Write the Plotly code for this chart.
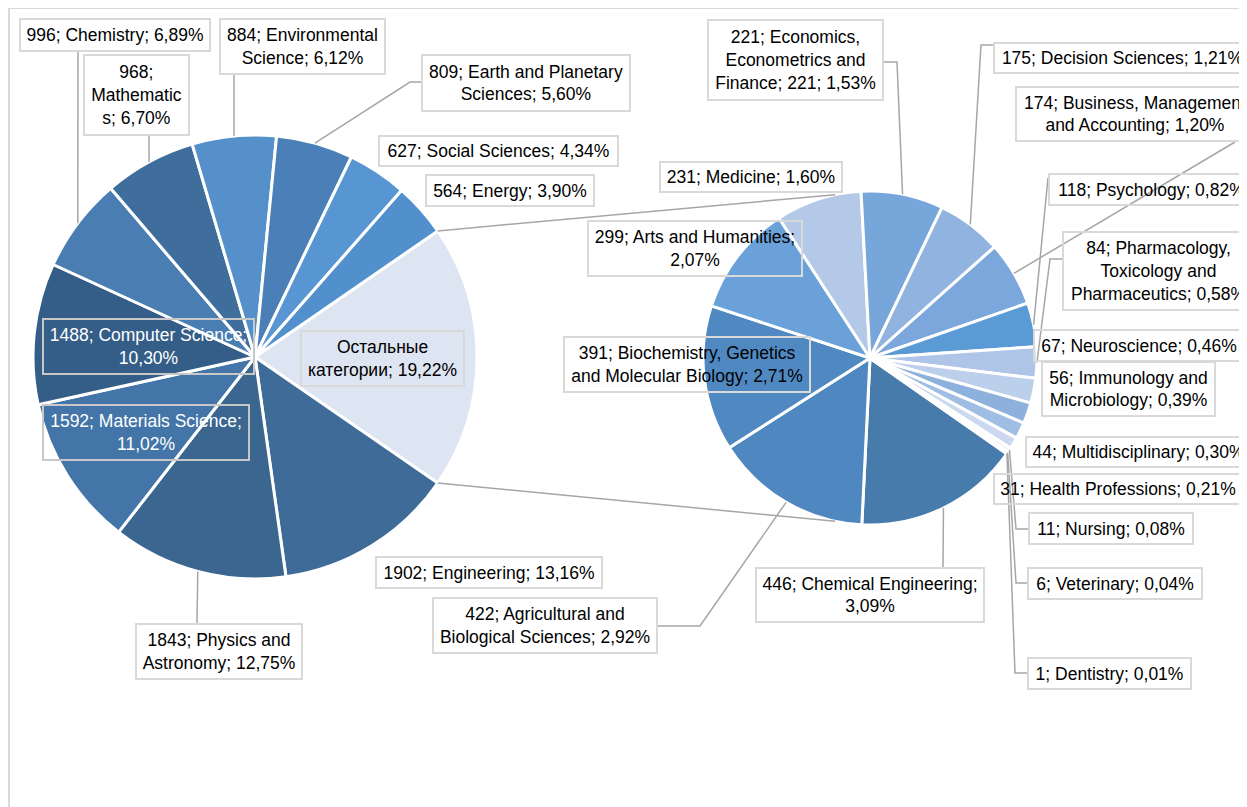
import math
import plotly.graph_objects as go

W, H = 1247, 807
PAGE = 8   # the page body margin shifts the figure by this many pixels

# main pie (clockwise, starting with the grouped slice)
main_names = ["Остальные категории", "Engineering", "Physics and Astronomy", "Materials Science",
              "Computer Science", "Chemistry", "Mathematics", "Environmental Science",
              "Earth and Planetary Sciences", "Social Sciences", "Energy"]
main_counts = [2777, 1902, 1843, 1592, 1488, 996, 968, 884, 809, 627, 564]
main_labels = ["Остальные<br>категории; 19,22%",
               "1902; Engineering; 13,16%",
               "1843; Physics and<br>Astronomy; 12,75%",
               "1592; Materials Science;<br>11,02%",
               "1488; Computer Science;<br>10,30%",
               "996; Chemistry; 6,89%",
               "968;<br>Mathematic<br>s; 6,70%",
               "884; Environmental<br>Science; 6,12%",
               "809; Earth and Planetary<br>Sciences; 5,60%",
               "627; Social Sciences; 4,34%",
               "564; Energy; 3,90%"]
main_colors = ["#dde4f2", "#3e6b97", "#3a6690", "#4375a8", "#345d88", "#4a7eb3",
               "#3f6d9c", "#5590ca", "#4a7fb7", "#5796d3", "#5190cc"]

# secondary pie: breakdown of "Остальные категории"
sub_names = ["Chemical Engineering", "Agricultural and Biological Sciences",
             "Biochemistry, Genetics and Molecular Biology", "Arts and Humanities", "Medicine",
             "Economics, Econometrics and Finance", "Decision Sciences",
             "Business, Management and Accounting", "Psychology",
             "Pharmacology, Toxicology and Pharmaceutics", "Neuroscience",
             "Immunology and Microbiology", "Multidisciplinary", "Health Professions",
             "Nursing", "Veterinary", "Dentistry"]
sub_counts = [446, 422, 391, 299, 231, 221, 175, 174, 118, 84, 67, 56, 44, 31, 11, 6, 1]
sub_labels = ["446; Chemical Engineering;<br>3,09%",
              "422; Agricultural and<br>Biological Sciences; 2,92%",
              "391; Biochemistry, Genetics<br>and Molecular Biology; 2,71%",
              "299; Arts and Humanities;<br>2,07%",
              "231; Medicine; 1,60%",
              "221; Economics,<br>Econometrics and<br>Finance; 221; 1,53%",
              "175; Decision Sciences; 1,21%",
              "174; Business, Management<br>and Accounting; 1,20%",
              "118; Psychology; 0,82%",
              "84; Pharmacology,<br>Toxicology and<br>Pharmaceutics; 0,58%",
              "67; Neuroscience; 0,46%",
              "56; Immunology and<br>Microbiology; 0,39%",
              "44; Multidisciplinary; 0,30%",
              "31; Health Professions; 0,21%",
              "11; Nursing; 0,08%",
              "6; Veterinary; 0,04%",
              "1; Dentistry; 0,01%"]
sub_colors = ["#467bac", "#4f88c1", "#5089c2", "#6aa1d8", "#b4c9e8", "#76a6da", "#90b3df",
              "#7ba7dc", "#5b9bd5", "#aec5e7", "#bccfeb", "#8db0dd", "#a0bde3", "#cbd8ef",
              "#dfe7f5", "#b8cce9", "#e6edf8"]

# geometry (pixels, as seen on the page)
L_CX, L_CY, L_R = 255, 357, 222
R_CX, R_CY, R_R = 870, 358, 167
main_rot = 90 - 180 * main_counts[0] / sum(main_counts)   # grouped slice centred at 3 o'clock
sub_rot = 125

# label boxes (x0, y0, x1, y1) and leader-line elbows, px
main_boxes = [(300, 330, 465, 387), (375, 556, 603, 589), (135, 623, 303, 680),
              (42, 404, 250, 461), (42, 318, 255, 375), (19, 18, 211, 52),
              (83, 54, 190, 136), (219, 18, 386, 75), (421, 54, 631, 112),
              (378, 135, 619, 167), (425, 174, 595, 207)]
main_leaders = [None, None, [(197, 623)], None, None, [(78, 52)], [(149, 136)], [(234, 75)],
                [(421, 82), (410, 82)], None, None]
main_fonts = ["black", "black", "black", "white", "white"] + ["black"] * 6

sub_boxes = [(755, 567, 985, 623), (432, 597, 658, 654), (563, 336, 811, 393),
             (587, 220, 803, 277), (659, 161, 843, 193), (707, 19, 884, 101),
             (993, 42, 1252, 74), (1015, 86, 1255, 142), (1048, 173, 1255, 206),
             (1062, 231, 1255, 311), (1033, 329, 1245, 362), (1041, 361, 1216, 417),
             (1025, 436, 1252, 468), (993, 473, 1243, 505), (1028, 512, 1194, 545),
             (1027, 567, 1203, 600), (1027, 657, 1192, 690)]
sub_leaders = [[(943, 567)], [(658, 626), (700, 626)], None, None, None,
               [(884, 62), (897, 62)], [(993, 45), (981, 45)], [(1235, 142)],
               [(1048, 178)], [(1062, 259), (1050, 259)], None, None, None, None,
               [(1028, 529), (1016, 529)], [(1027, 583), (1016, 583)],
               [(1027, 673), (1015, 673)]]


def px(x):
    return (x - PAGE) / W


def py(y):
    return 1 - (y - PAGE) / H


def mid_angles(counts, start):
    tot = sum(counts)
    out, a = [], start
    for c in counts:
        span = 360 * c / tot
        out.append(a + span / 2)
        a += span
    return out


def on_circle(cx, cy, r, deg):
    t = math.radians(deg)
    return (cx + r * math.sin(t), cy - r * math.cos(t))


def path(pts):
    return "M " + " L ".join(f"{px(x):.5f},{py(y):.5f}" for x, y in pts)


fig = go.Figure()
fig.add_trace(go.Pie(labels=main_names, values=main_counts, sort=False, direction="clockwise",
                     rotation=main_rot, textinfo="none", showlegend=False,
                     marker=dict(colors=main_colors, line=dict(color="white", width=3)),
                     domain=dict(x=[px(L_CX - L_R), px(L_CX + L_R)],
                                 y=[py(L_CY + L_R), py(L_CY - L_R)])))
fig.add_trace(go.Pie(labels=sub_names, values=sub_counts, sort=False, direction="clockwise",
                     rotation=sub_rot, textinfo="none", showlegend=False,
                     marker=dict(colors=sub_colors, line=dict(color="white", width=3)),
                     domain=dict(x=[px(R_CX - R_R), px(R_CX + R_R)],
                                 y=[py(R_CY + R_R), py(R_CY - R_R)])))

FONT = "Liberation Sans, Arial"
LINE = "#a6a6a6"


def add_labels(labels, boxes, leaders, angles, cx, cy, r, fonts=None):
    for i, txt in enumerate(labels):
        x0, y0, x1, y1 = boxes[i]
        col = fonts[i] if fonts else "black"
        fig.add_annotation(x=px((x0 + x1) / 2), y=py((y0 + y1) / 2), xref="paper", yref="paper",
                           text=txt, showarrow=False, xanchor="center", yanchor="middle",
                           width=x1 - x0 - 4, height=y1 - y0 - 4, borderpad=0, borderwidth=2,
                           bordercolor="#d9d9d9" if col == "black" else "#c8c8c8",
                           align="center", valign="middle",
                           font=dict(family=FONT, size=17.5, color=col))
        if leaders[i]:
            pts = leaders[i] + [on_circle(cx, cy, r, angles[i])]
            fig.add_shape(type="path", xref="paper", yref="paper", path=path(pts),
                          line=dict(color=LINE, width=1.5), layer="above")


add_labels(main_labels, main_boxes, main_leaders, mid_angles(main_counts, main_rot),
           L_CX, L_CY, L_R, main_fonts)
add_labels(sub_labels, sub_boxes, sub_leaders, mid_angles(sub_counts, sub_rot),
           R_CX, R_CY, R_R)

# connector lines between the grouped slice and the secondary pie
edge_a = main_rot
edge_b = main_rot + 360 * main_counts[0] / sum(main_counts)
for a, b in [(edge_a, 348), (edge_b, 192)]:
    fig.add_shape(type="path", xref="paper", yref="paper",
                  path=path([on_circle(L_CX, L_CY, L_R, a), on_circle(R_CX, R_CY, R_R, b)]),
                  line=dict(color=LINE, width=1.5), layer="above")

# chart frame
fig.add_shape(type="rect", xref="paper", yref="paper", x0=px(9), x1=px(1300), y0=py(900),
              y1=py(8), line=dict(color="#d9d9d9", width=2), layer="below")

fig.update_layout(width=W, height=H, autosize=False, margin=dict(l=0, r=0, t=0, b=0),
                  paper_bgcolor="white", plot_bgcolor="white", font=dict(family=FONT))

fig.write_html("out.html")
